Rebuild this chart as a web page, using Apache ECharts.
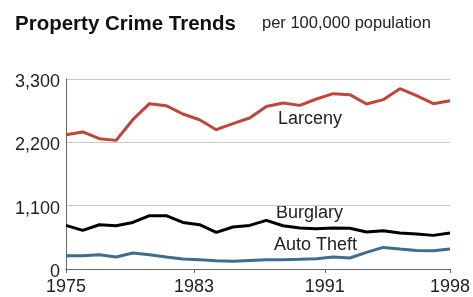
<!DOCTYPE html>
<html>
<head>
<meta charset="utf-8">
<script src="https://cdn.jsdelivr.net/npm/echarts@6/dist/echarts.min.js"></script>
<style>
  html, body { margin: 0; padding: 0; background: #fff; }
  #chart { width: 473px; height: 297px; }
</style>
</head>
<body>
<div id="chart"></div>
<script>
// years 1975..1998, rates per 100,000
const years = [1975, 1976, 1977, 1978, 1979, 1980, 1981, 1982, 1983, 1984, 1985, 1986,
  1987, 1988, 1989, 1990, 1991, 1992, 1993, 1994, 1995, 1996, 1997, 1998];
const larceny = [2333, 2380, 2263, 2234, 2593, 2871, 2837, 2692, 2593, 2420, 2524, 2623,
  2824, 2883, 2842, 2953, 3045, 3028, 2866, 2941, 3132, 3010, 2871, 2923];
const burglary = [757, 670, 769, 752, 809, 926, 926, 809, 769, 636, 730, 757,
  844, 752, 712, 700, 712, 709, 643, 665, 625, 608, 584, 625];
const autoTheft = [231, 231, 248, 208, 278, 248, 208, 174, 162, 144, 135, 149,
  162, 162, 170, 179, 208, 191, 288, 375, 347, 323, 318, 347];
const xTicks = [1975, 1982.67, 1990.5, 1998];

const font = 'Liberation Sans, Arial, sans-serif';
const pair = (vals) => years.map((y, i) => [y, vals[i]]);

const myCharts = echarts.init(document.getElementById('chart'));
myCharts.setOption({
  animation: false,
  title: [
    { text: 'Property Crime Trends', left: 10, top: 9,
      textStyle: { fontFamily: font, fontSize: 20.5, fontWeight: 'bold', color: '#111' } },
    { text: 'per 100,000 population', left: 257, top: 10,
      textStyle: { fontFamily: font, fontSize: 16.5, fontWeight: 'normal', color: '#222' } }
  ],
  grid: { left: 66, right: 22, top: 79, bottom: 28 },
  xAxis: {
    type: 'value', min: years[0], max: years[years.length - 1],
    axisLine: { lineStyle: { color: '#666', width: 1 } },
    axisTick: { customValues: xTicks, length: 4, lineStyle: { color: '#666' } },
    axisLabel: {
      customValues: xTicks, margin: 9,
      fontFamily: font, fontSize: 18, color: '#222',
      formatter: (v) => String(Math.round(v))
    },
    splitLine: { show: false }
  },
  yAxis: {
    type: 'value', min: 0, max: 3300, interval: 1100,
    axisLine: { show: true, lineStyle: { color: '#666', width: 1 } },
    axisTick: { show: false },
    axisLabel: {
      margin: 6, fontFamily: font, fontSize: 18, color: '#222',
      verticalAlign: 'top', lineHeight: 6,
      formatter: (v) => v.toLocaleString('en-US')
    },
    splitLine: { lineStyle: { color: '#c8c8c8', width: 1 } }
  },
  series: [
    { name: 'Larceny', type: 'line', data: pair(larceny), symbol: 'none',
      lineStyle: { color: '#c0453a', width: 3 } },
    { name: 'Burglary', type: 'line', data: pair(burglary), symbol: 'none',
      lineStyle: { color: '#000', width: 3 } },
    { name: 'Auto Theft', type: 'line', data: pair(autoTheft), symbol: 'none',
      lineStyle: { color: '#3f6d8f', width: 3 } }
  ],
  graphic: [
    { type: 'text', left: 278, top: 110,
      style: { text: 'Larceny', font: '18px ' + font, fill: '#222' } },
    { type: 'text', left: 276, top: 204,
      style: { text: 'Burglary', font: '18px ' + font, fill: '#222' } },
    { type: 'text', left: 274, top: 236,
      style: { text: 'Auto Theft', font: '18px ' + font, fill: '#222' } }
  ]
});
</script>
</body>
</html>
